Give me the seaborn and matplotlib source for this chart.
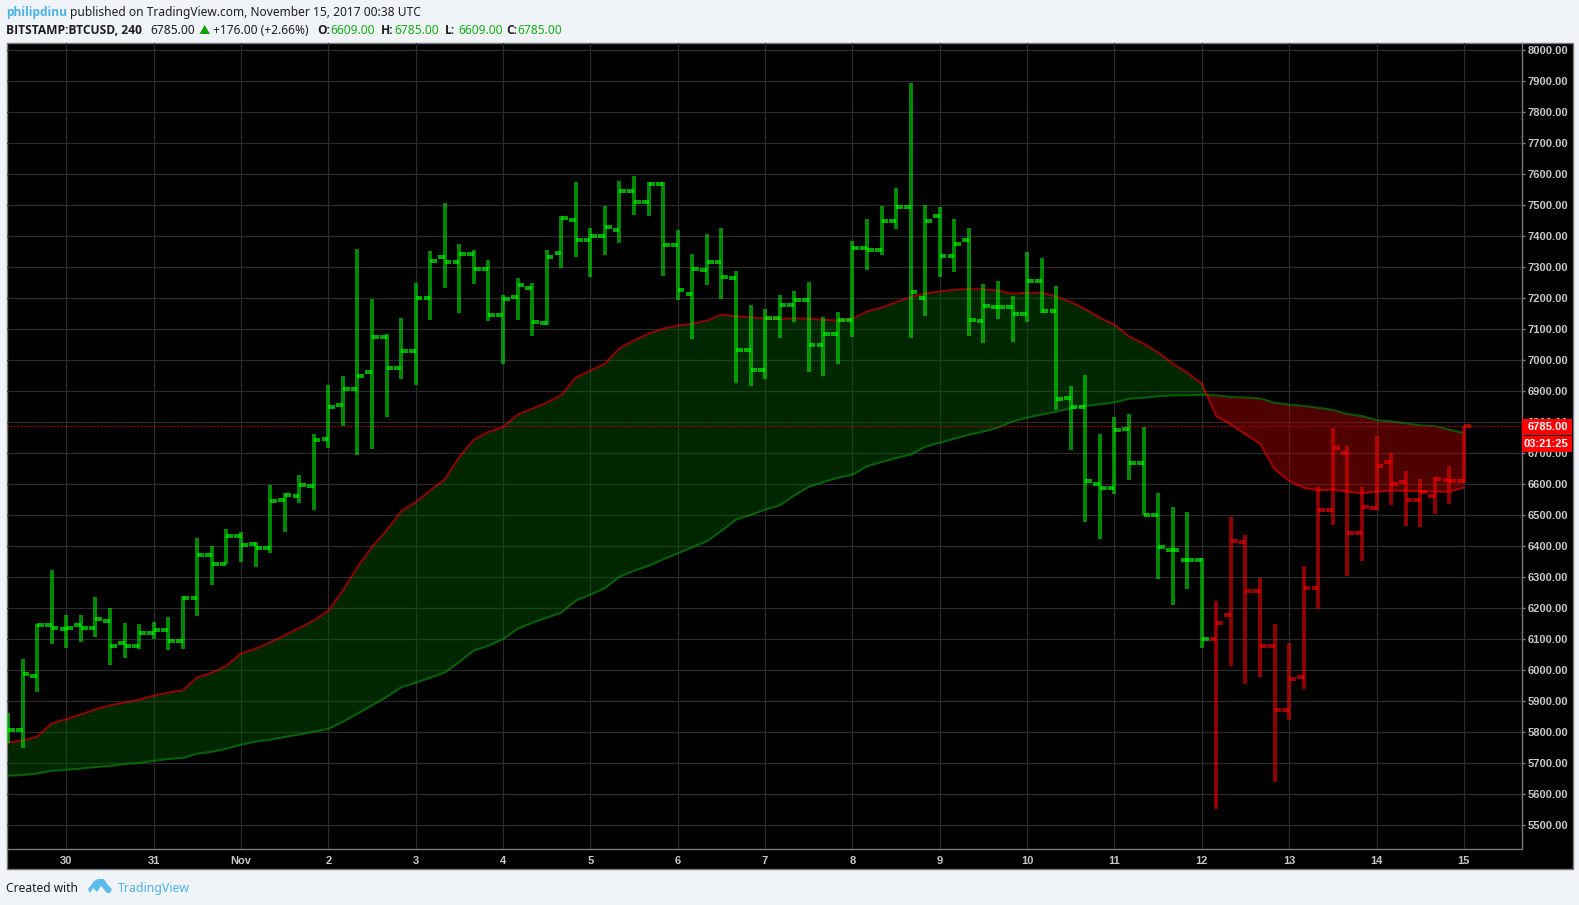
"""
plot.py
BITSTAMP:BTCUSD 240 bars with two moving averages and a cloud between them
"""

import numpy as np
import pandas as pd
import matplotlib
matplotlib.use('Agg')
import matplotlib.pyplot as plt
from matplotlib.patches import Polygon, Rectangle
import seaborn as sns

# ---------------------------------------------------------
# DATA
# ---------------------------------------------------------

opens = [
    5800, 5804, 5980, 6143, 6130, 6143, 6133, 6156, 6085, 6078,
    6117, 6127, 6091, 6230, 6369, 6340, 6430, 6404, 6391, 6546,
    6559, 6591, 6743, 6853, 6904, 6959, 7072, 6972, 7027, 7198,
    7330, 7314, 7340, 7291, 7143, 7201, 7230, 7117, 7343, 7449,
    7385, 7398, 7417, 7543, 7508, 7566, 7369, 7211, 7288, 7314,
    7262, 7030, 6966, 7133, 7178, 7191, 7046, 7082, 7127, 7359,
    7353, 7446, 7491, 7198, 7462, 7333, 7385, 7124, 7169, 7169,
    7146, 7253, 7156, 6878, 6846, 6598, 6585, 6775, 6666, 6498,
    6385, 6353, 6353, 6098, 6178, 6411, 6253, 6078, 5869, 5978,
    6262, 6515, 6699, 6441, 6522, 6670, 6605, 6547, 6560, 6612,
    6609,
]
highs = [
    5859, 6036, 6148, 6320, 6175, 6178, 6233, 6198, 6149, 6146,
    6153, 6169, 6237, 6424, 6398, 6453, 6443, 6411, 6595, 6569,
    6627, 6759, 6917, 6946, 7356, 7195, 7082, 7133, 7246, 7349,
    7505, 7372, 7353, 7320, 7208, 7262, 7246, 7353, 7465, 7572,
    7424, 7495, 7578, 7591, 7572, 7572, 7417, 7340, 7404, 7424,
    7285, 7178, 7162, 7208, 7220, 7249, 7137, 7153, 7382, 7453,
    7495, 7553, 7891, 7498, 7491, 7453, 7424, 7243, 7253, 7204,
    7346, 7327, 7237, 6914, 6949, 6759, 6814, 6824, 6782, 6569,
    6524, 6508, 6359, 6220, 6491, 6433, 6295, 6146, 6085, 6333,
    6588, 6780, 6722, 6589, 6754, 6699, 6641, 6615, 6621, 6657,
    6786,
]
lows = [
    5763, 5747, 5928, 6083, 6070, 6089, 6105, 6015, 6038, 6067,
    6099, 6063, 6067, 6173, 6273, 6340, 6347, 6331, 6375, 6443,
    6538, 6515, 6715, 6785, 6691, 6711, 6814, 6937, 6917, 7127,
    7232, 7149, 7243, 7124, 6985, 7127, 7075, 7111, 7295, 7330,
    7266, 7337, 7375, 7466, 7462, 7269, 7191, 7066, 7240, 7195,
    6924, 6914, 6937, 7069, 7120, 6959, 6946, 6985, 7072, 7288,
    7337, 7420, 7070, 7140, 7266, 7282, 7075, 7053, 7130, 7056,
    7120, 7149, 6837, 6708, 6475, 6420, 6566, 6611, 6498, 6291,
    6208, 6259, 6069, 5549, 6011, 5953, 5975, 5637, 5837, 5939,
    6195, 6467, 6302, 6351, 6515, 6531, 6463, 6460, 6502, 6534,
    6602,
]
closes = [
    5804, 5986, 6143, 6133, 6133, 6133, 6162, 6078, 6078, 6117,
    6127, 6091, 6230, 6369, 6340, 6430, 6401, 6391, 6543, 6562,
    6595, 6740, 6846, 6904, 6946, 7072, 6972, 7027, 7198, 7317,
    7314, 7340, 7291, 7143, 7195, 7240, 7120, 7330, 7457, 7385,
    7398, 7427, 7543, 7508, 7566, 7369, 7224, 7291, 7314, 7266,
    7030, 6966, 7133, 7175, 7191, 7046, 7082, 7127, 7359, 7353,
    7446, 7491, 7217, 7446, 7333, 7372, 7127, 7172, 7169, 7146,
    7253, 7156, 6872, 6846, 6608, 6585, 6772, 6666, 6498, 6395,
    6385, 6353, 6098, 6149, 6414, 6253, 6078, 5869, 5969, 6262,
    6514, 6715, 6441, 6525, 6657, 6599, 6547, 6573, 6615, 6609,
    6785,
]
ma_fast = [
    5765, 5772, 5784, 5827, 5840, 5856, 5872, 5885, 5894, 5903,
    5916, 5926, 5934, 5975, 5990, 6013, 6052, 6068, 6088, 6111,
    6134, 6159, 6190, 6256, 6331, 6396, 6449, 6511, 6541, 6578,
    6614, 6686, 6742, 6767, 6782, 6823, 6842, 6861, 6886, 6942,
    6965, 6987, 7037, 7062, 7084, 7100, 7110, 7116, 7126, 7146,
    7140, 7137, 7133, 7132, 7134, 7132, 7129, 7126, 7132, 7156,
    7168, 7186, 7202, 7214, 7220, 7226, 7228, 7227, 7223, 7213,
    7216, 7216, 7204, 7186, 7163, 7135, 7113, 7075, 7052, 7023,
    6987, 6958, 6922, 6817, 6791, 6759, 6729, 6646, 6609, 6587,
    6578, 6581, 6574, 6569, 6574, 6578, 6577, 6576, 6574, 6574,
    6588,
]
ma_slow = [
    5658, 5660, 5665, 5674, 5677, 5681, 5686, 5689, 5696, 5699,
    5706, 5712, 5715, 5729, 5735, 5745, 5758, 5768, 5774, 5783,
    5791, 5800, 5809, 5832, 5858, 5885, 5912, 5943, 5958, 5974,
    5991, 6025, 6062, 6077, 6099, 6132, 6151, 6168, 6184, 6223,
    6242, 6263, 6300, 6319, 6335, 6356, 6375, 6395, 6414, 6448,
    6484, 6499, 6516, 6530, 6562, 6590, 6605, 6619, 6629, 6656,
    6670, 6683, 6694, 6719, 6732, 6745, 6758, 6768, 6781, 6801,
    6813, 6823, 6832, 6843, 6851, 6856, 6862, 6874, 6877, 6882,
    6885, 6885, 6887, 6885, 6880, 6878, 6875, 6861, 6855, 6851,
    6845, 6838, 6825, 6818, 6805, 6801, 6795, 6788, 6786, 6775,
    6763,
]
day_labels = ['30', '31', 'Nov', '2', '3', '4', '5', '6', '7', '8',
              '9', '10', '11', '12', '13', '14', '15']
price_ticks = list(range(5500, 8001, 100))
last_price = 6785

# ---------------------------------------------------------
# PAGE SETUP (all sizes below are pixels of the 1579x905 page)
# ---------------------------------------------------------

W, H = 1579, 905
PAGE = '#F0F3F8'
GRID = '#2B2B2B'
FRAME = '#7A7A7A'
AXIS_TEXT = '#C8C8C8'
UI_FONT = ['Noto Sans', 'DejaVu Sans']
BOLD_FONT = ['Open Sans', 'DejaVu Sans']
SCALE_FONT = ['Liberation Sans', 'DejaVu Sans']

sns.set_style('white')
plt.rcParams['font.family'] = UI_FONT


def px_box(left, top, right, bottom):
    return [left / W, 1 - bottom / H, (right - left) / W, (bottom - top) / H]


fig = plt.figure(figsize=(W / 100, H / 100), dpi=100, facecolor=PAGE)

# black panel behind the chart and its scales
bg = fig.add_axes([0, 0, 1, 1], zorder=0)
bg.set_xlim(0, W)
bg.set_ylim(H, 0)
bg.axis('off')
bg.add_patch(Rectangle((6.5, 43.5), 1566, 825, facecolor='black',
                       edgecolor=FRAME, linewidth=1))

# ---------------------------------------------------------
# CHART
# ---------------------------------------------------------

df = pd.DataFrame({
    'bar': np.arange(len(closes)),
    'open': opens, 'high': highs, 'low': lows, 'close': closes,
    'fast': ma_fast, 'slow': ma_slow,
})
bullish = df['fast'] > df['slow']

ax = fig.add_axes(px_box(6.67, 43.3, 1521.5, 849.3), zorder=1)
ax.set_facecolor('black')
ax.patch.set_alpha(0)
ax.set_xlim(-0.095, 103.96)
ax.set_ylim(5420.6, 8020.6)

ax.set_axisbelow(True)
ax.grid(True, color=GRID, linewidth=0.9)

ax.fill_between(df['bar'], df['fast'], df['slow'], where=bullish, interpolate=True,
                color='#006400', alpha=0.4, linewidth=0, zorder=2)
ax.fill_between(df['bar'], df['fast'], df['slow'], where=~bullish, interpolate=True,
                color='#C80000', alpha=0.4, linewidth=0, zorder=2)

sns.lineplot(data=df, x='bar', y='slow', ax=ax, color='#0B8A0B', alpha=0.6,
             linewidth=1.5, estimator=None, zorder=3, legend=False)
sns.lineplot(data=df, x='bar', y='fast', ax=ax, color='#FF0000', alpha=0.55,
             linewidth=1.5, estimator=None, zorder=3, legend=False)

ax.axhline(last_price, color='#B00000', linewidth=0.8, linestyle=(0, (1.5, 1.5)), zorder=3)

# OHLC bars, the colour follows which average is on top
for mask, colour, wick_a, tick_a in [(bullish, '#00FF00', 0.53, 0.65),
                                     (~bullish, '#FF0000', 0.55, 0.62)]:
    part = df[mask]
    ax.vlines(part['bar'], part['low'], part['high'], color=colour, alpha=wick_a,
              linewidth=2.88, capstyle='butt', zorder=4)
    ax.hlines(part['open'], part['bar'] - 0.46, part['bar'], color=colour, alpha=tick_a,
              linewidth=2.88, capstyle='butt', zorder=5)
    ax.hlines(part['close'], part['bar'], part['bar'] + 0.46, color=colour, alpha=tick_a,
              linewidth=2.88, capstyle='butt', zorder=5)

# scales
ax.set_xticks(np.arange(4, 101, 6))
ax.set_xticklabels(day_labels)
ax.set_yticks(price_ticks)
ax.set_yticklabels([f'{p:.2f}' for p in price_ticks])
ax.yaxis.tick_right()
ax.set_xlabel('')
ax.set_ylabel('')
ax.tick_params(axis='y', length=2, width=1, color=FRAME, pad=2.5, labelsize=8,
               labelcolor=AXIS_TEXT)
ax.tick_params(axis='x', length=0, pad=4.5, labelsize=8, labelcolor=AXIS_TEXT)
for label in ax.get_xticklabels() + ax.get_yticklabels():
    label.set_fontfamily(SCALE_FONT)
    label.set_fontweight('bold')
for side in ['top', 'left']:
    ax.spines[side].set_visible(False)
for side in ['right', 'bottom']:
    ax.spines[side].set_color(FRAME)
    ax.spines[side].set_linewidth(1)

# ---------------------------------------------------------
# HEADER, FOOTER AND PRICE FLAGS
# ---------------------------------------------------------

fg = fig.add_axes([0, 0, 1, 1], zorder=2)
fg.set_xlim(0, W)
fg.set_ylim(H, 0)
fg.axis('off')

fg.add_patch(Rectangle((1522, 419), 50, 16, facecolor='#FF0000', edgecolor='none'))
fg.add_patch(Rectangle((1522, 436), 50, 16, facecolor='#FF0000', edgecolor='none'))
fg.text(1568, 427, f'{last_price:.2f}', color='white', fontsize=8, fontweight='bold',
        family=SCALE_FONT, ha='right', va='center')
fg.text(1568, 444, '03:21:25', color='white', fontsize=8, fontweight='bold',
        family=SCALE_FONT, ha='right', va='center')

TEXT = '#1E1E1E'
GREEN = '#16AD16'
BLUE = '#4DB4E6'
HEAD = 8.65

fg.text(6, 16, 'philipdinu', color=BLUE, fontsize=HEAD, fontweight='bold',
        family=BOLD_FONT, va='baseline')
fg.text(69.5, 16, 'published on TradingView.com, November 15, 2017 00:38 UTC', color=TEXT,
        fontsize=HEAD, va='baseline')

header = [
    (6, 'BITSTAMP:BTCUSD, 240', TEXT, 'bold'),
    (150, '6785.00', TEXT, 'normal'),
    (213, '+176.00 (+2.66%)', TEXT, 'normal'),
    (317, 'O:', TEXT, 'bold'),
    (330, '6609.00', GREEN, 'normal'),
    (381, 'H:', TEXT, 'bold'),
    (394, '6785.00', GREEN, 'normal'),
    (445, 'L:', TEXT, 'bold'),
    (458, '6609.00', GREEN, 'normal'),
    (506, 'C:', TEXT, 'bold'),
    (517, '6785.00', GREEN, 'normal'),
]
for x, txt, colour, weight in header:
    family = BOLD_FONT if weight == 'bold' else UI_FONT
    fg.text(x, 34, txt, color=colour, fontsize=HEAD, fontweight=weight, family=family,
            va='baseline')
fg.add_patch(Polygon([(199.5, 34), (210, 34), (204.7, 25)], facecolor='#0FA30F', edgecolor='none'))

fg.text(6, 892, 'Created with', color=TEXT, fontsize=HEAD, va='baseline')
fg.text(118, 892, 'TradingView', color=BLUE, fontsize=8.9, va='baseline')

# cloud logo
fg.add_patch(Polygon([(88, 889), (94, 881), (98, 879), (104, 879), (107, 884), (112, 889),
                      (110, 893), (107, 893), (101, 886), (97, 892), (93, 888), (90, 893)],
                     facecolor='#5CBDEB', edgecolor='none'))

plt.savefig('out.png', dpi=100, facecolor=PAGE)
plt.close()
